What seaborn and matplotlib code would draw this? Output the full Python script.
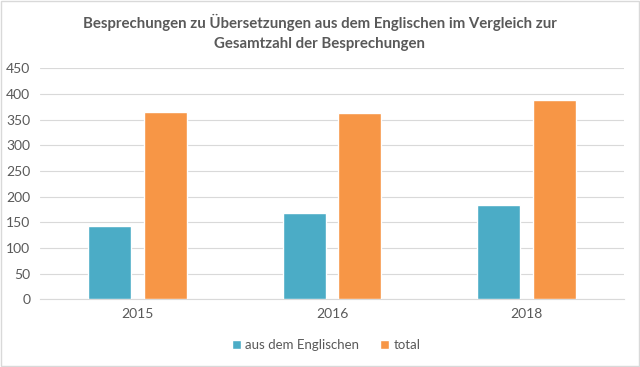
import pandas as pd
import seaborn as sns
import matplotlib.pyplot as plt
from matplotlib.patches import Rectangle

years = ["2015", "2016", "2018"]
englisch = [143, 169, 184]
total = [364, 363, 388]
series_names = ["aus dem Englischen", "total"]

df = pd.DataFrame({
    "Jahr": years * 2,
    "Serie": [series_names[0]] * 3 + [series_names[1]] * 3,
    "Anzahl": englisch + total,
})

sns.set_style("white")
plt.rcParams["font.family"] = ["Lato", "DejaVu Sans"]

fig = plt.figure(figsize=(6.4, 3.67), dpi=100)
ax = fig.add_axes([0.0625, 0.1845, 0.9125, 0.6295])

sns.barplot(data=df, x="Jahr", y="Anzahl", hue="Serie",
            palette=["#4BACC6", "#F79646"], width=0.575, gap=0.232,
            saturation=1, ax=ax, zorder=3)

ax.set_ylim(0, 450)
ax.set_yticks(range(0, 451, 50))
ax.yaxis.grid(True, color="#D9D9D9", linewidth=0.8, zorder=0)
ax.set_axisbelow(True)
for s in ["top", "right", "left"]:
    ax.spines[s].set_visible(False)
ax.spines["bottom"].set_color("#D9D9D9")
ax.tick_params(axis="both", length=0, colors="#595959", labelsize=10)
ax.tick_params(axis="y", pad=7)
ax.tick_params(axis="x", pad=6)
ax.set_xlabel("")
ax.set_ylabel("")

ax.legend(loc="upper center", bbox_to_anchor=(0.49, -0.12), ncol=2,
          frameon=False, fontsize=9.5, handlelength=0.7, handleheight=0.7,
          columnspacing=1.6, handletextpad=0.3, labelcolor="#595959")

fig.text(0.5, 0.912,
         "Besprechungen zu Übersetzungen aus dem Englischen im Vergleich zur\nGesamtzahl der Besprechungen",
         ha="center", va="center", fontsize=10.8, fontweight="bold",
         color="#595959", linespacing=1.55)

fig.patches.append(Rectangle((0.002, 0.003), 0.996, 0.994, transform=fig.transFigure,
                             fill=False, edgecolor="#D9D9D9", linewidth=1))

fig.savefig("out.png", dpi=100)
